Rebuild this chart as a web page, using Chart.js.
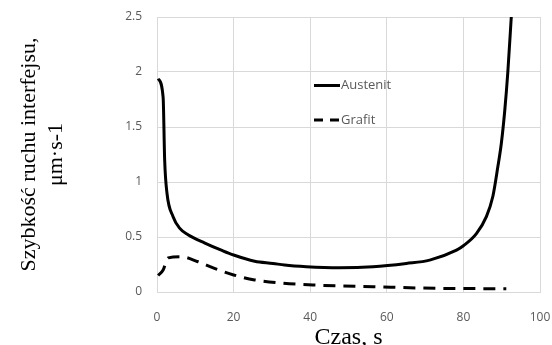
<!DOCTYPE html>
<html>
<head>
<meta charset="utf-8">
<script src="https://cdn.jsdelivr.net/npm/chart.js@4"></script>
<style>
  html, body { margin: 0; padding: 0; background: #fff; }
  #wrap { width: 552px; height: 345px; }
</style>
</head>
<body>
<div id="wrap"><canvas id="speedChart" width="552" height="345"></canvas></div>
<script>
// time values (s) and speeds
const timeAustenit = [0.3, 1.6, 2.0, 2.6, 4.2, 5.9, 8.1, 12.5, 16.8, 20, 25.5, 30.3, 33.3, 39, 47.7, 56.4, 65.1, 71.2, 78.2, 80, 83.4, 86, 87.7, 89, 89.9, 90.8, 91.6, 92.5];
const austenit = [1.94, 1.77, 1.2, 0.9, 0.685, 0.58, 0.52, 0.445, 0.38, 0.336, 0.28, 0.26, 0.245, 0.23, 0.221, 0.23, 0.26, 0.29, 0.38, 0.42, 0.53, 0.685, 0.87, 1.14, 1.35, 1.65, 2.0, 2.5];

const timeGrafit = [0.3, 1.6, 2.9, 6.4, 10.7, 15, 20, 25.5, 32.9, 40.7, 56.4, 73.8, 91.2];
const grafit = [0.15, 0.2, 0.31, 0.32, 0.275, 0.215, 0.155, 0.11, 0.08, 0.064, 0.048, 0.033, 0.03];

const seriesNames = ['Austenit', 'Grafit'];
const xTicks = [0, 20, 40, 60, 80, 100];
const yTicks = [0, 0.5, 1, 1.5, 2, 2.5];

const toPoints = (xs, ys) => xs.map((x, i) => ({ x: x, y: ys[i] }));

// legend drawn inside the plot, like the original
const innerLegend = {
    id: 'innerLegend',
    afterDatasetsDraw(chart) {
        const ctx = chart.ctx;
        const rows = [
            { y: 85.5, dash: [] },
            { y: 120, dash: [9, 7] }
        ];
        ctx.save();
        rows.forEach((r, i) => {
            ctx.beginPath();
            ctx.setLineDash(r.dash);
            ctx.lineWidth = 3;
            ctx.strokeStyle = '#000';
            ctx.moveTo(314, r.y);
            ctx.lineTo(340, r.y);
            ctx.stroke();
            ctx.setLineDash([]);
            ctx.fillStyle = '#595959';
            ctx.font = '13px "Open Sans", "Liberation Sans", sans-serif';
            ctx.textBaseline = 'middle';
            ctx.fillText(seriesNames[i], 341, r.y);
        });
        ctx.restore();
    }
};

const tickFont = { family: '"Open Sans", "Liberation Sans", sans-serif', size: 12 };

const ctx = document.getElementById('speedChart').getContext('2d');
new Chart(ctx, {
    type: 'line',
    data: {
        datasets: [{
            label: seriesNames[0],
            data: toPoints(timeAustenit, austenit),
            borderColor: '#000',
            borderWidth: 3,
            pointRadius: 0,
            cubicInterpolationMode: 'monotone',
            fill: false
        }, {
            label: seriesNames[1],
            data: toPoints(timeGrafit, grafit),
            borderColor: '#000',
            borderWidth: 3,
            borderDash: [12, 8],
            pointRadius: 0,
            cubicInterpolationMode: 'monotone',
            fill: false
        }]
    },
    options: {
        responsive: false,
        animation: false,
        layout: { padding: { top: 17, right: 12, left: 0, bottom: 0 } },
        plugins: {
            legend: { display: false },
            tooltip: { enabled: false }
        },
        scales: {
            x: {
                type: 'linear',
                min: 0,
                max: 100,
                afterBuildTicks: scale => { scale.ticks = xTicks.map(v => ({ value: v })); },
                afterFit: scale => {
                    scale.height = 53;
                    scale.paddingLeft = 0;
                    scale.paddingRight = 0;
                },
                grid: { color: '#d9d9d9', drawTicks: false },
                border: { color: '#d9d9d9' },
                ticks: {
                    padding: 18,
                    color: '#595959',
                    font: tickFont,
                    callback: v => String(v)
                },
                title: {
                    display: true,
                    text: 'Czas, s',
                    color: '#000',
                    padding: { top: 0, bottom: -5 },
                    font: { family: '"Liberation Serif", "Times New Roman", serif', size: 24, lineHeight: 1 }
                }
            },
            y: {
                min: 0,
                max: 2.5,
                afterBuildTicks: scale => { scale.ticks = yTicks.map(v => ({ value: v })); },
                afterFit: scale => {
                    scale.width = 157;
                    scale.paddingTop = 0;
                    scale.paddingBottom = 0;
                },
                grid: { color: '#d9d9d9', drawTicks: false },
                border: { color: '#d9d9d9' },
                ticks: {
                    padding: 15,
                    color: '#595959',
                    font: tickFont,
                    callback: v => String(v)
                },
                title: {
                    display: true,
                    text: ['Szybkość ruchu interfejsu,', 'μm·s-1'],
                    color: '#000',
                    padding: { top: 15, bottom: 0 },
                    font: { family: '"Liberation Serif", "Times New Roman", serif', size: 22, lineHeight: 1.25 }
                }
            }
        }
    },
    plugins: [innerLegend]
});
</script>
</body>
</html>
